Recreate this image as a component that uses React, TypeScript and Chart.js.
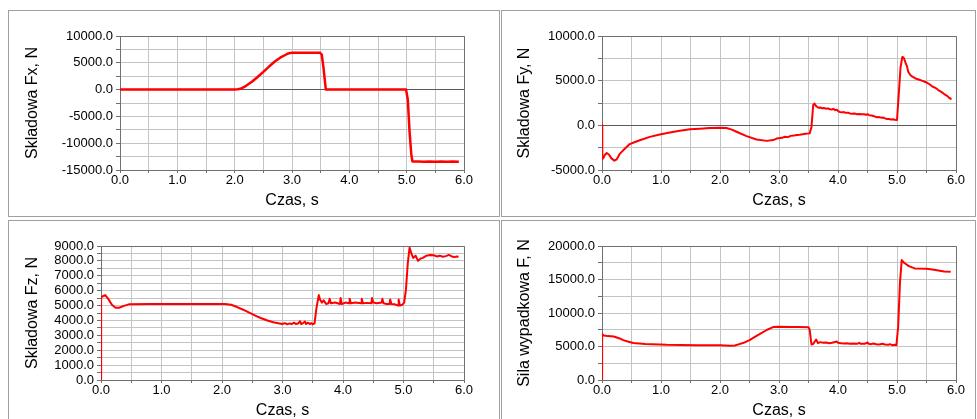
import React, { useEffect, useRef } from 'react';
import { Chart, registerables } from 'chart.js';

Chart.register(...registerables);

const FONT = '"Liberation Sans", Arial, sans-serif';

// ---- Data (time in s, force in N) ----
const fxTime = [0, 2.0, 2.05, 2.1, 2.2, 2.3, 2.4, 2.5, 2.6, 2.7, 2.8, 2.9, 2.95, 3.0, 3.49, 3.52, 3.55, 3.59, 3.6, 4.99, 5.02, 5.05, 5.08, 5.1, 5.2, 5.3, 5.4, 5.5, 5.6, 5.7, 5.8, 5.91];
const fxValue = [0, 0, 50, 150, 700, 1450, 2350, 3300, 4300, 5250, 6000, 6550, 6800, 6870, 6870, 6500, 4000, 0, 0, 0, -1900, -7800, -12000, -13400, -13430, -13480, -13400, -13470, -13420, -13480, -13430, -13460];

const fyTime = [0, 0.005, 0.02, 0.05, 0.08, 0.12, 0.16, 0.21, 0.25, 0.3, 0.39, 0.47, 0.55, 0.64, 0.81, 0.98, 1.15, 1.32, 1.49, 1.66, 1.83, 2.0, 2.11, 2.2, 2.28, 2.45, 2.62, 2.79, 2.9, 2.96, 3.05, 3.1, 3.15, 3.2, 3.25, 3.3, 3.35, 3.4, 3.45, 3.52, 3.55, 3.58, 3.6, 3.63, 3.65, 3.68, 3.7, 3.73, 3.76, 3.8, 3.83, 3.86, 3.9, 3.92, 3.95, 3.98, 4.0, 4.03, 4.06, 4.1, 4.13, 4.17, 4.2, 4.24, 4.28, 4.32, 4.36, 4.4, 4.44, 4.48, 4.5, 4.53, 4.57, 4.6, 4.63, 4.66, 4.7, 4.73, 4.76, 4.8, 4.83, 4.86, 4.9, 4.93, 4.96, 5.0, 5.03, 5.06, 5.09, 5.11, 5.13, 5.15, 5.17, 5.19, 5.21, 5.23, 5.26, 5.3, 5.34, 5.38, 5.42, 5.46, 5.5, 5.55, 5.6, 5.65, 5.7, 5.75, 5.8, 5.85, 5.88, 5.9, 5.91];
const fyValue = [0, -3750, -3700, -3300, -3100, -3300, -3700, -3950, -3800, -3200, -2600, -2100, -1900, -1670, -1290, -1020, -800, -600, -450, -380, -300, -260, -300, -480, -720, -1210, -1590, -1740, -1650, -1480, -1400, -1280, -1320, -1180, -1150, -1080, -1050, -1000, -950, -900, -200, 2280, 2430, 2150, 2050, 1950, 2000, 1900, 1950, 1850, 1900, 1800, 1780, 1850, 1700, 1750, 1600, 1500, 1450, 1480, 1400, 1420, 1330, 1300, 1330, 1250, 1280, 1230, 1250, 1180, 1250, 1130, 1100, 1050, 980, 900, 920, 860, 880, 780, 700, 720, 660, 680, 620, 600, 3500, 6500, 7650, 7600, 7300, 6900, 6600, 6000, 5800, 5600, 5450, 5300, 5180, 5100, 5000, 4900, 4800, 4600, 4350, 4200, 3950, 3750, 3500, 3300, 3100, 3000, 2950];

const fzTime = [0, 0.002, 0.04, 0.07, 0.12, 0.18, 0.24, 0.3, 0.38, 0.46, 0.8, 1.5, 2.05, 2.15, 2.25, 2.35, 2.45, 2.55, 2.65, 2.75, 2.85, 2.95, 3.0, 3.04, 3.08, 3.12, 3.15, 3.19, 3.22, 3.26, 3.29, 3.31, 3.34, 3.37, 3.39, 3.42, 3.45, 3.48, 3.5, 3.53, 3.56, 3.6, 3.62, 3.65, 3.68, 3.72, 3.76, 3.78, 3.8, 3.87, 3.95, 3.96, 3.98, 4.04, 4.1, 4.11, 4.13, 4.2, 4.3, 4.31, 4.33, 4.4, 4.47, 4.48, 4.5, 4.56, 4.64, 4.65, 4.67, 4.72, 4.77, 4.78, 4.8, 4.86, 4.91, 4.92, 4.94, 4.98, 5.01, 5.04, 5.07, 5.1, 5.13, 5.16, 5.2, 5.24, 5.28, 5.32, 5.38, 5.44, 5.5, 5.55, 5.6, 5.65, 5.7, 5.75, 5.8, 5.84, 5.88, 5.91];
const fzValue = [0, 5550, 5650, 5700, 5450, 5050, 4850, 4850, 4980, 5080, 5100, 5100, 5110, 5050, 4900, 4720, 4520, 4330, 4150, 4000, 3880, 3800, 3760, 3820, 3740, 3800, 3750, 3850, 3760, 3800, 3950, 3760, 3820, 3930, 3760, 3850, 3760, 3820, 3740, 3800, 4800, 5700, 5400, 5200, 5350, 5100, 5150, 5450, 5150, 5200, 5100, 5500, 5100, 5200, 5150, 5450, 5150, 5200, 5150, 5450, 5150, 5180, 5150, 5500, 5200, 5150, 5200, 5450, 5150, 5100, 5100, 5400, 5100, 5080, 5000, 5400, 5000, 5050, 5200, 6050, 7800, 8900, 8500, 8200, 8350, 8000, 8150, 8200, 8350, 8400, 8380, 8300, 8350, 8280, 8320, 8400, 8300, 8250, 8300, 8280];

const fTime = [0, 0.002, 0.03, 0.1, 0.2, 0.3, 0.36, 0.45, 0.53, 0.73, 1.1, 1.6, 2.0, 2.17, 2.25, 2.3, 2.4, 2.5, 2.62, 2.7, 2.8, 2.9, 3.0, 3.2, 3.35, 3.5, 3.52, 3.55, 3.58, 3.63, 3.66, 3.7, 3.75, 3.8, 3.85, 3.9, 3.98, 4.0, 4.05, 4.1, 4.15, 4.2, 4.25, 4.32, 4.36, 4.38, 4.45, 4.5, 4.52, 4.56, 4.6, 4.65, 4.7, 4.75, 4.8, 4.85, 4.88, 4.92, 4.96, 4.99, 5.02, 5.05, 5.08, 5.12, 5.2, 5.3, 5.5, 5.6, 5.7, 5.8, 5.91];
const fValue = [0, 6850, 6650, 6550, 6500, 6200, 5950, 5700, 5520, 5370, 5250, 5200, 5180, 5120, 5150, 5280, 5550, 5950, 6600, 7000, 7500, 7900, 7950, 7900, 7920, 7880, 7500, 5300, 5400, 6050, 5500, 5650, 5550, 5600, 5500, 5550, 5750, 5550, 5500, 5450, 5500, 5420, 5450, 5400, 5550, 5400, 5400, 5600, 5400, 5350, 5450, 5350, 5300, 5400, 5300, 5250, 5350, 5200, 5250, 5200, 8000, 14500, 17900, 17500, 17000, 16650, 16600, 16500, 16350, 16200, 16150];

const xTitle = 'Czas, s';

type PanelCfg = {
  times: number[];
  values: number[];
  yTitle: string;
  yMin: number;
  yMax: number;
  yStep: number;
  yLabelStep: number;
  lineWidth: number;
  left: number;
  top: number;
  width: number;
  yAxisWidth: number;
  padRight: number;
  titlePad: number;
};

const PANEL_H = 207;

const panels: PanelCfg[] = [
  { times: fxTime, values: fxValue, yTitle: 'Skladowa Fx, N', yMin: -15000, yMax: 10000, yStep: 2500, yLabelStep: 5000, lineWidth: 2.5, left: 8, top: 10, width: 492, yAxisWidth: 111, padRight: 35, titlePad: 14 },
  { times: fyTime, values: fyValue, yTitle: 'Skladowa Fy, N', yMin: -5000, yMax: 10000, yStep: 2500, yLabelStep: 5000, lineWidth: 2, left: 501, top: 10, width: 475, yAxisWidth: 100, padRight: 19, titlePad: 13 },
  { times: fzTime, values: fzValue, yTitle: 'Skladowa Fz, N', yMin: 0, yMax: 9000, yStep: 500, yLabelStep: 1000, lineWidth: 2, left: 8, top: 220, width: 492, yAxisWidth: 92, padRight: 35, titlePad: 14 },
  { times: fTime, values: fValue, yTitle: 'Sila wypadkowa F, N', yMin: 0, yMax: 20000, yStep: 2500, yLabelStep: 5000, lineWidth: 2, left: 501, top: 220, width: 475, yAxisWidth: 100, padRight: 19, titlePad: 13 },
];

const boxPlugin = {
  id: 'plotBox',
  afterDraw(chart: any) {
    const { ctx, chartArea } = chart;
    ctx.save();
    ctx.strokeStyle = '#707070';
    ctx.lineWidth = 1;
    ctx.beginPath();
    ctx.moveTo(chartArea.left, chartArea.top + 0.5);
    ctx.lineTo(chartArea.right + 0.5, chartArea.top + 0.5);
    ctx.lineTo(chartArea.right + 0.5, chartArea.bottom);
    ctx.stroke();
    ctx.restore();
  },
};

function Panel({ cfg }: { cfg: PanelCfg }) {
  const ref = useRef<HTMLCanvasElement>(null);
  const cw = cfg.width - 2;
  const ch = PANEL_H - 2;
  useEffect(() => {
    if (!ref.current) return;
    const chart = new Chart(ref.current, {
      type: 'line',
      data: {
        datasets: [
          {
            data: cfg.times.map((t, i) => ({ x: t, y: cfg.values[i] })),
            borderColor: '#ff0000',
            borderWidth: cfg.lineWidth,
            pointRadius: 0,
            tension: 0,
            borderJoinStyle: 'round',
          },
        ],
      },
      options: {
        animation: false,
        responsive: false,
        devicePixelRatio: 1,
        layout: { padding: { top: 25, right: cfg.padRight, left: 0, bottom: 0 } },
        plugins: { legend: { display: false }, tooltip: { enabled: false }, title: { display: false } },
        scales: {
          x: {
            type: 'linear',
            min: 0,
            max: 6,
            afterFit: (s: any) => { s.height = 46; },
            ticks: {
              stepSize: 0.5,
              autoSkip: false,
              maxRotation: 0,
              padding: 0,
              color: '#000',
              font: { family: FONT, size: 13 },
              callback: (v: any) => (Math.abs(Number(v) - Math.round(Number(v))) < 1e-6 ? Number(v).toFixed(1) : ''),
            },
            grid: { color: '#c4c4c4', lineWidth: 1, tickLength: 3, tickColor: '#707070' },
            border: { display: true, color: '#707070' },
            title: { display: true, text: xTitle, color: '#000', font: { family: FONT, size: 16 }, padding: { top: 0, bottom: 6 } },
          },
          y: {
            type: 'linear',
            min: cfg.yMin,
            max: cfg.yMax,
            afterFit: (s: any) => { s.width = cfg.yAxisWidth; },
            ticks: {
              stepSize: cfg.yStep,
              autoSkip: false,
              padding: 3,
              color: '#000',
              font: { family: FONT, size: 13 },
              callback: (v: any) => (Math.round(Number(v)) % cfg.yLabelStep === 0 ? Number(v).toFixed(1) : ''),
            },
            grid: {
              color: (c: any) => (c.tick && c.tick.value === 0 ? '#5a5a5a' : '#c4c4c4'),
              lineWidth: 1,
              tickLength: 4,
              tickColor: '#707070',
            },
            border: { display: true, color: '#707070' },
            title: { display: true, text: cfg.yTitle, color: '#000', font: { family: FONT, size: 16 }, padding: { top: cfg.titlePad, bottom: 0 } },
          },
        },
      },
      plugins: [boxPlugin],
    } as any);
    return () => chart.destroy();
  }, [cfg]);
  return (
    <div
      style={{
        position: 'absolute',
        left: cfg.left,
        top: cfg.top,
        width: cfg.width,
        height: PANEL_H,
        boxSizing: 'border-box',
        border: '1px solid #a0a0a0',
        background: '#fff',
      }}
    >
      <canvas ref={ref} width={cw} height={ch} style={{ display: 'block', width: cw, height: ch }} />
    </div>
  );
}

export default function App() {
  return (
    <div style={{ position: 'fixed', left: 0, top: 0, width: 977, height: 419, overflow: 'hidden', background: '#fff' }}>
      {panels.map((p, i) => (
        <Panel key={i} cfg={p} />
      ))}
    </div>
  );
}
